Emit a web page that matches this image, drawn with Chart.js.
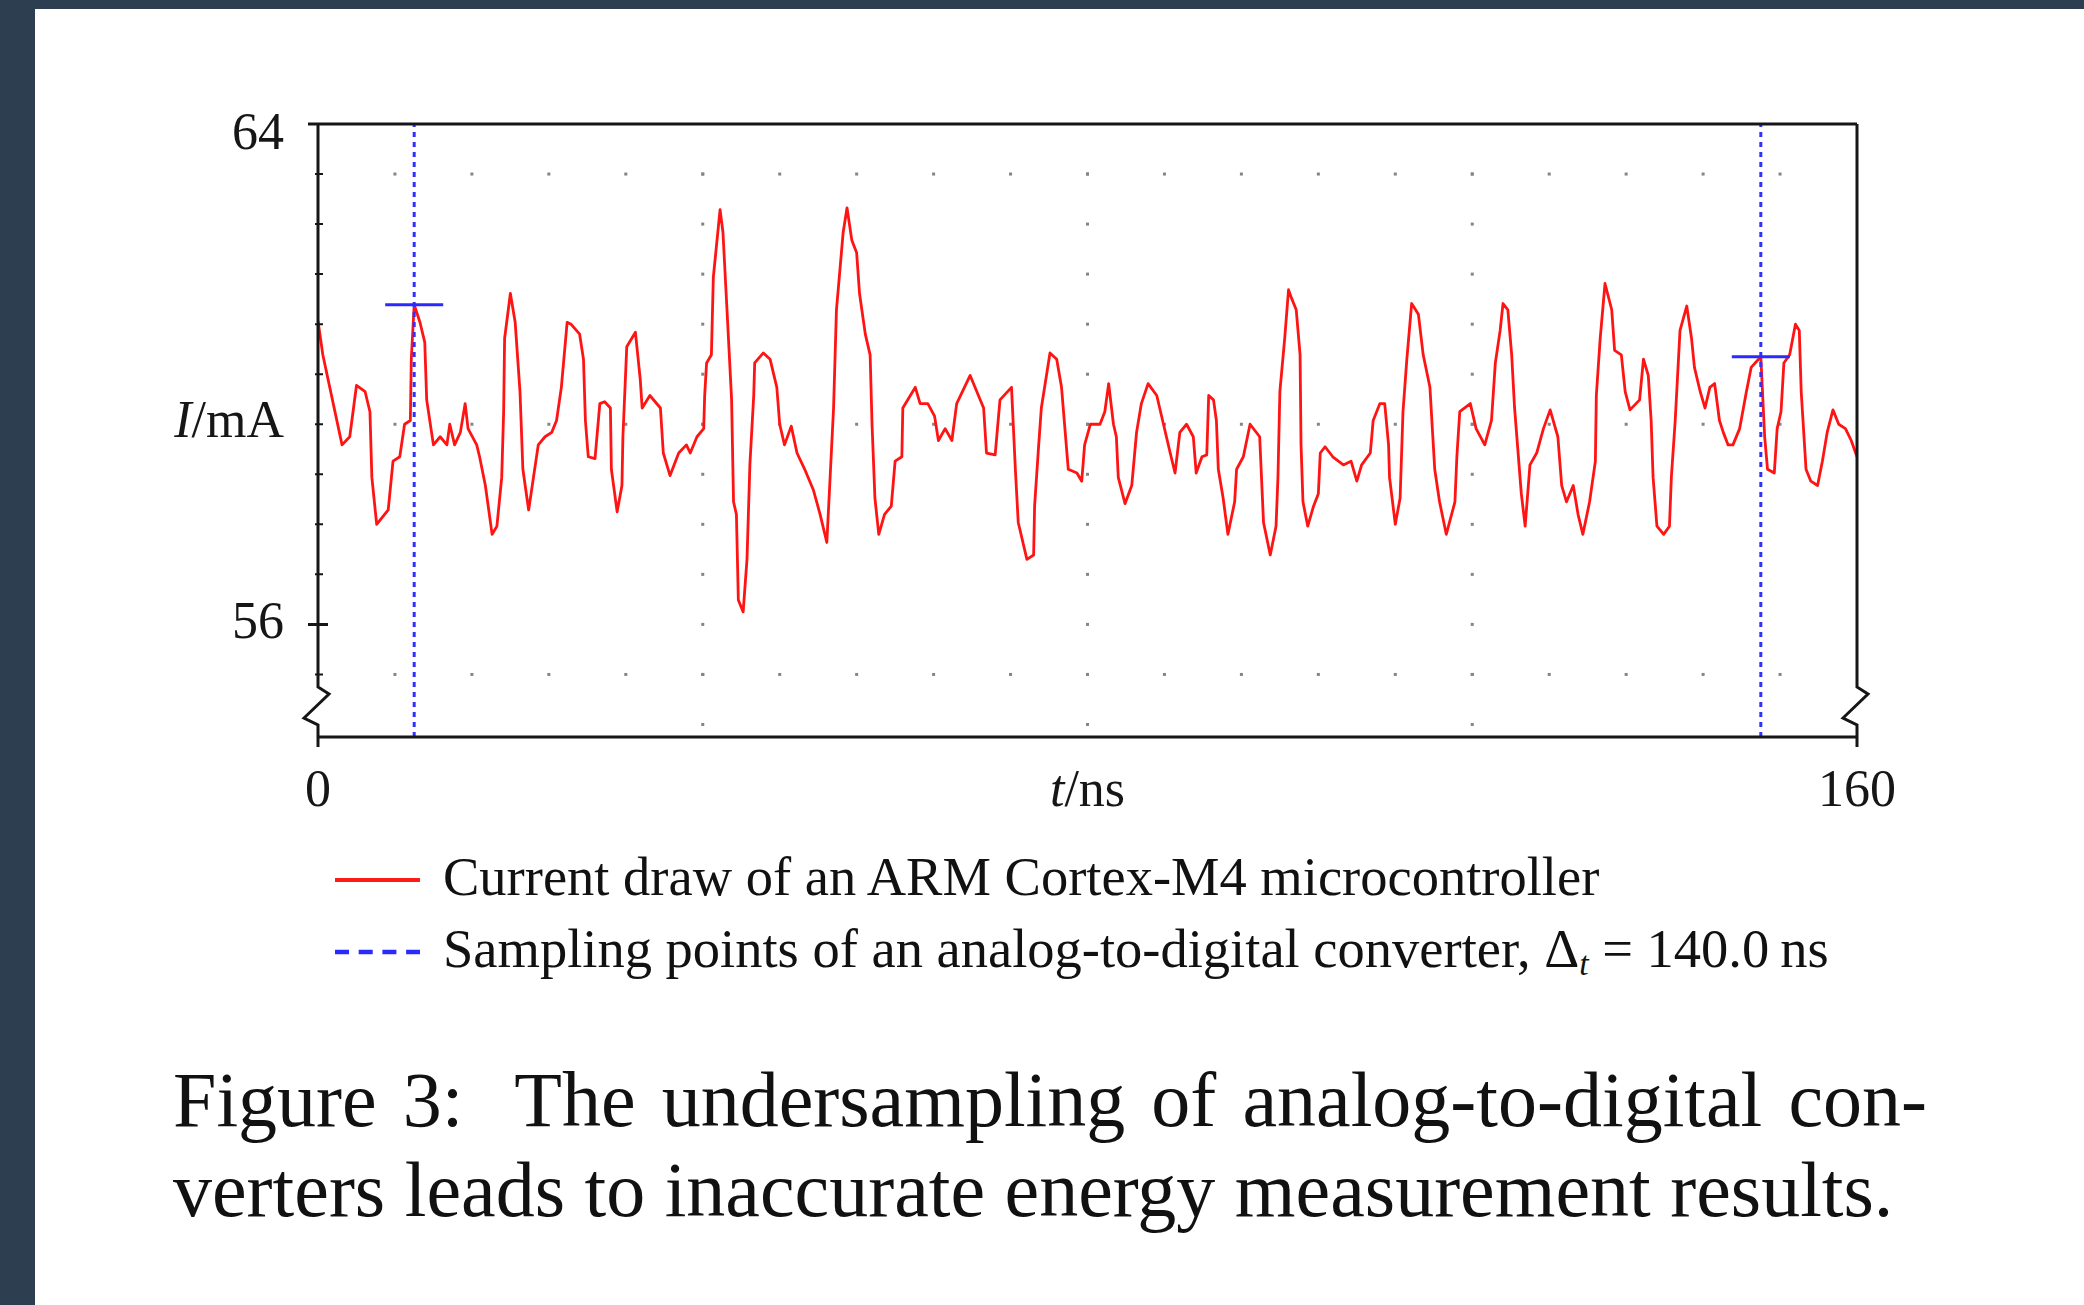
<!DOCTYPE html>
<html>
<head>
<meta charset="utf-8">
<title>Figure 3</title>
<script src="https://cdn.jsdelivr.net/npm/chart.js@4.4.1/dist/chart.umd.min.js"></script>
<style>
  html, body { margin: 0; padding: 0; }
  body {
    width: 2084px; height: 1305px; overflow: hidden; position: relative;
    background: #2c3e50;
    font-family: "Liberation Serif", "Times New Roman", serif;
    color: #111;
  }
  .sheet { position: absolute; left: 35px; top: 9px; right: 0; bottom: 0; background: #fff; }
  #chart { position: absolute; left: 0; top: 0; }
  .key { position: absolute; left: 335px; }
  .key-text { position: absolute; left: 443px; font-size: 54.5px; line-height: 62px; white-space: nowrap; }
  .key-text sub { font-size: 0.62em; font-style: italic; vertical-align: -0.25em; }
  .caption { position: absolute; left: 173px; top: 1055px; width: 1754px; font-size: 78px; line-height: 90px; }
  .caption .first { text-align: justify; text-align-last: justify; }
</style>
</head>
<body>
<div class="sheet"></div>
<canvas id="chart" width="2084" height="830"></canvas>

<svg class="key" style="top:874px" width="85" height="12">
  <line x1="0" y1="6" x2="85" y2="6" stroke="#ff1a1a" stroke-width="4"/>
</svg>
<div class="key-text" style="top:846px">Current draw of an ARM Cortex-M4 microcontroller</div>
<svg class="key" style="top:946px" width="85" height="12">
  <line x1="0" y1="6" x2="85" y2="6" stroke="#2a2aff" stroke-width="4.5" stroke-dasharray="14 9.7"/>
</svg>
<div class="key-text" style="top:918px">Sampling points of an analog-to-digital converter, &Delta;<sub>t</sub> = 140.0&#8201;ns</div>

<div class="caption">
  <div class="first">Figure 3:&nbsp; The undersampling of analog-to-digital con-</div>
  <div>verters leads to inaccurate energy measurement results.</div>
</div>

<script>
/* =============================== */
/* Data */
/* =============================== */
// time (ns) and current draw (mA) of the MCU trace
const timeNs = [
  0, 0.5, 2.5, 3.3, 4.0, 4.9, 5.4, 5.6, 6.1, 7.3, 7.8, 8.5, 9.0, 9.6, 9.7, 10.0,
  10.6, 11.1, 11.3, 12.0, 12.7, 13.4, 13.7, 14.2, 14.8, 15.3, 15.6, 16.5, 16.8, 17.4, 18.1, 18.6,
  19.1, 19.3, 19.4, 20.0, 20.5, 21.0, 21.3, 21.9, 22.4, 22.9, 23.6, 24.3, 24.8, 25.3, 25.9, 26.3,
  27.2, 27.6, 27.8, 28.1, 28.8, 29.3, 29.8, 30.4, 30.5, 31.1, 31.6, 31.7, 32.1, 33.0, 33.5, 33.7,
  34.5, 35.6, 35.9, 36.6, 37.5, 38.3, 38.7, 39.4, 40.1, 40.2, 40.4, 40.9, 41.1, 41.8, 42.1, 42.5,
  43.0, 43.2, 43.5, 43.7, 44.2, 44.6, 44.9, 45.3, 45.4, 46.3, 47.0, 47.7, 48.0, 48.5, 49.2, 49.8,
  50.6, 51.5, 52.2, 52.9, 53.2, 53.6, 53.9, 54.6, 55.0, 55.5, 56.0, 56.3, 56.9, 57.4, 57.6, 57.9,
  58.3, 58.9, 59.6, 60.0, 60.7, 60.8, 62.1, 62.6, 63.4, 64.1, 64.5, 65.2, 65.9, 66.4, 67.8, 69.2,
  69.5, 70.4, 70.9, 72.1, 72.5, 72.8, 73.7, 74.4, 74.5, 74.9, 75.2, 76.1, 76.8, 77.3, 78.0, 78.9,
  79.4, 79.7, 80.3, 81.3, 81.8, 82.2, 82.7, 83.0, 83.2, 83.9, 84.6, 85.1, 85.6, 86.3, 87.2, 87.9,
  88.6, 89.1, 89.6, 90.3, 91.0, 91.3, 91.9, 92.4, 92.6, 93.1, 93.4, 93.6, 94.1, 94.6, 95.3, 95.5,
  96.2, 96.9, 97.9, 98.3, 99.0, 99.6, 99.8, 100.0, 100.5, 100.9, 101.2, 101.7, 102.1, 102.2, 102.4, 102.9,
  103.5, 104.0, 104.2, 104.7, 105.5, 106.6, 107.4, 108.0, 108.5, 109.4, 109.7, 110.4, 110.9, 111.3, 111.4, 112.0,
  112.5, 112.8, 113.2, 113.7, 114.4, 114.9, 115.6, 116.1, 116.6, 117.3, 118.2, 118.4, 118.7, 119.8, 120.4, 121.3,
  122.0, 122.4, 122.9, 123.2, 123.7, 124.1, 124.4, 125.1, 125.5, 126.0, 126.7, 127.4, 128.1, 128.9, 129.3, 129.8,
  130.5, 131.0, 131.5, 132.2, 132.8, 132.9, 133.3, 133.8, 134.5, 134.8, 135.5, 135.9, 136.4, 137.4, 137.8, 138.3,
  138.6, 138.8, 139.2, 139.9, 140.5, 140.7, 141.1, 141.6, 142.3, 142.8, 143.1, 143.7, 144.2, 144.7, 145.2, 145.7,
  146.1, 146.6, 147.1, 147.8, 148.5, 149.0, 150.0, 150.4, 150.7, 151.4, 151.7, 152.1, 152.4, 153.0, 153.6, 154.0,
  154.2, 154.7, 155.2, 155.9, 156.4, 156.9, 157.5, 158.1, 158.8, 159.4, 160.0
];
const currentMa = [
  60.85, 60.31, 58.87, 59.00, 59.82, 59.72, 59.40, 58.35, 57.60, 57.83, 58.61, 58.68, 59.20, 59.26, 60.24, 61.11,
  60.83, 60.51, 59.59, 58.87, 59.00, 58.87, 59.20, 58.87, 59.07, 59.53, 59.13, 58.87, 58.68, 58.22, 57.44, 57.57,
  58.35, 59.40, 60.57, 61.29, 60.83, 59.72, 58.48, 57.83, 58.35, 58.87, 59.00, 59.07, 59.26, 59.79, 60.83, 60.80,
  60.64, 60.24, 59.26, 58.68, 58.65, 59.53, 59.56, 59.46, 58.48, 57.80, 58.22, 59.00, 60.44, 60.67, 59.92, 59.46,
  59.66, 59.46, 58.74, 58.38, 58.74, 58.87, 58.74, 59.00, 59.13, 59.66, 60.18, 60.31, 61.55, 62.63, 62.27, 61.09,
  59.59, 57.96, 57.76, 56.39, 56.20, 57.04, 58.55, 59.66, 60.18, 60.34, 60.24, 59.79, 59.20, 58.87, 59.17, 58.74,
  58.48, 58.15, 57.76, 57.31, 58.22, 59.46, 61.03, 62.27, 62.66, 62.14, 61.94, 61.29, 60.64, 60.31, 59.20, 58.02,
  57.44, 57.76, 57.89, 58.61, 58.68, 59.46, 59.79, 59.53, 59.53, 59.33, 58.94, 59.13, 58.94, 59.53, 59.98, 59.46,
  58.74, 58.71, 59.59, 59.79, 58.48, 57.63, 57.04, 57.11, 57.89, 58.81, 59.46, 60.34, 60.24, 59.79, 58.48, 58.42,
  58.29, 58.87, 59.20, 59.20, 59.40, 59.85, 59.20, 59.00, 58.35, 57.93, 58.22, 59.07, 59.53, 59.85, 59.66, 59.20,
  58.74, 58.42, 59.07, 59.20, 59.00, 58.42, 58.68, 58.71, 59.66, 59.59, 59.26, 58.48, 58.02, 57.44, 57.96, 58.48,
  58.68, 59.20, 59.00, 57.63, 57.11, 57.57, 58.35, 59.72, 60.57, 61.35, 61.22, 61.03, 60.31, 58.87, 57.96, 57.57,
  57.89, 58.09, 58.74, 58.84, 58.68, 58.55, 58.61, 58.29, 58.55, 58.74, 59.26, 59.53, 59.53, 58.87, 58.35, 57.60,
  58.02, 59.40, 60.24, 61.13, 60.96, 60.31, 59.79, 58.48, 57.96, 57.44, 57.96, 58.68, 59.40, 59.53, 59.13, 58.87,
  59.26, 60.18, 60.70, 61.13, 61.03, 60.31, 59.46, 58.09, 57.57, 58.55, 58.74, 59.13, 59.43, 59.00, 58.22, 57.96,
  58.22, 57.76, 57.44, 57.96, 58.61, 59.66, 60.57, 61.45, 61.03, 60.38, 60.31, 59.72, 59.43, 59.59, 60.24, 59.98,
  59.26, 58.35, 57.57, 57.44, 57.57, 58.35, 59.26, 60.70, 61.09, 60.57, 60.11, 59.72, 59.46, 59.79, 59.85, 59.26,
  59.07, 58.87, 58.87, 59.13, 59.72, 60.11, 60.28, 59.00, 58.48, 58.42, 59.13, 59.40, 60.18, 60.31, 60.80, 60.70,
  59.72, 58.48, 58.29, 58.22, 58.61, 59.07, 59.43, 59.20, 59.13, 58.94, 58.68
];

// ADC sampling instants (140 ns apart) and the value each one reads
const sampleTimes = [10, 150];
const sampleValues = [61.11, 60.28];

// axes
const xTickLabels = [0, 160];
const yTickLabels = [56, 64];
const yMinorTicks = [63.2, 62.4, 61.6, 60.8, 60.0, 59.2, 58.4, 57.6, 56.8, 55.2];
const gridRows = [63.2, 59.2, 55.2];
const gridCols = [40, 80, 120];

const X_MIN = 0, X_MAX = 160;
const Y_MIN = 54.2, Y_MAX = 64;
const DOT_STEP_T = 8, DOT_STEP_I = 0.8;

const FONT = '"Liberation Serif", "Times New Roman", serif';
const FONT_SIZE = 52;
const INK = '#161616';

/* =============================== */
/* Frame, breaks, dotted grid, axis names */
/* =============================== */
function drawMixed(ctx, parts, x, y, align) {
  const widths = parts.map(([s, italic]) => {
    ctx.font = (italic ? 'italic ' : '') + FONT_SIZE + 'px ' + FONT;
    return ctx.measureText(s).width;
  });
  const total = widths.reduce((a, b) => a + b, 0);
  let cx = align === 'right' ? x - total : x - total / 2;
  ctx.textAlign = 'left';
  ctx.textBaseline = 'middle';
  parts.forEach(([s, italic], i) => {
    ctx.font = (italic ? 'italic ' : '') + FONT_SIZE + 'px ' + FONT;
    ctx.fillText(s, cx, y);
    cx += widths[i];
  });
}

const figureFrame = {
  id: 'figureFrame',
  beforeDatasetsDraw(chart) {
    const { ctx, scales: { x, y } } = chart;
    ctx.save();
    ctx.fillStyle = '#858585';
    const dot = (t, v) => ctx.fillRect(x.getPixelForValue(t) - 1.5, y.getPixelForValue(v) - 1.5, 3, 3);
    gridRows.forEach(v => {
      for (let t = DOT_STEP_T; t < X_MAX; t += DOT_STEP_T) dot(t, v);
    });
    gridCols.forEach(t => {
      for (let v = Y_MAX - DOT_STEP_I; v > Y_MIN; v -= DOT_STEP_I) dot(t, v);
    });
    ctx.restore();
  },
  afterDatasetsDraw(chart) {
    const { ctx, chartArea: a, scales: { y } } = chart;
    ctx.save();
    ctx.strokeStyle = INK;
    ctx.lineWidth = 3;
    ctx.beginPath();
    ctx.moveTo(a.left, a.top); ctx.lineTo(a.right, a.top);
    ctx.moveTo(a.left, a.bottom); ctx.lineTo(a.right, a.bottom);
    // both side axes carry a break mark just above the bottom edge
    [a.left, a.right].forEach(px => {
      ctx.moveTo(px, a.top);
      ctx.lineTo(px, a.bottom - 50);
      ctx.lineTo(px + 11, a.bottom - 43);
      ctx.lineTo(px - 14, a.bottom - 19);
      ctx.lineTo(px, a.bottom - 12);
      ctx.lineTo(px, a.bottom + 10);
    });
    yTickLabels.forEach(v => {
      const py = y.getPixelForValue(v);
      ctx.moveTo(a.left - 10, py); ctx.lineTo(a.left + 10, py);
    });
    ctx.stroke();

    ctx.lineWidth = 2;
    ctx.beginPath();
    yMinorTicks.forEach(v => {
      const py = y.getPixelForValue(v);
      ctx.moveTo(a.left - 3, py); ctx.lineTo(a.left + 5, py);
    });
    ctx.stroke();
    ctx.restore();
  },
  afterDraw(chart) {
    const { ctx, chartArea: a } = chart;
    ctx.save();
    ctx.fillStyle = INK;
    drawMixed(ctx, [['I', true], ['/mA', false]], a.left - 34, (a.top + a.bottom) / 2 - 7, 'right');
    drawMixed(ctx, [['t', true], ['/ns', false]], (a.left + a.right) / 2, a.bottom + 24 + 31, 'center');
    ctx.restore();
  }
};

/* =============================== */
/* Chart.js */
/* =============================== */
const trace = timeNs.map((t, i) => ({ x: t, y: currentMa[i] }));

const sampleLines = sampleTimes.map(t => ({
  data: [{ x: t, y: Y_MIN }, { x: t, y: Y_MAX }],
  borderColor: '#3030ff',
  borderWidth: 3,
  borderDash: [5, 5],
  pointRadius: 0,
  order: 1
}));

const sampleMarks = {
  data: sampleTimes.map((t, i) => ({ x: t, y: sampleValues[i] })),
  showLine: false,
  pointStyle: 'line',
  pointRadius: 29,
  pointBorderWidth: 3,
  pointBorderColor: '#2a2aff',
  order: 0
};

new Chart(document.getElementById('chart'), {
  type: 'line',
  data: {
    datasets: [
      {
        data: trace,
        borderColor: '#ff1414',
        borderWidth: 2.8,
        tension: 0,
        borderJoinStyle: 'round',
        pointRadius: 0,
        order: 2
      },
      ...sampleLines,
      sampleMarks
    ]
  },
  options: {
    responsive: false,
    animation: false,
    devicePixelRatio: 1,
    layout: { padding: { left: 218, right: 227, top: 124, bottom: 13 } },
    plugins: { legend: { display: false }, tooltip: { enabled: false } },
    scales: {
      x: {
        type: 'linear',
        min: X_MIN,
        max: X_MAX,
        grid: { display: false, drawTicks: false },
        border: { display: false },
        afterBuildTicks: scale => { scale.ticks = xTickLabels.map(v => ({ value: v })); },
        afterFit: scale => { scale.height = 80; },
        ticks: {
          autoSkip: false,
          maxRotation: 0,
          padding: 24,
          color: INK,
          font: { family: FONT, size: FONT_SIZE }
        }
      },
      y: {
        type: 'linear',
        min: Y_MIN,
        max: Y_MAX,
        grid: { display: false, drawTicks: false },
        border: { display: false },
        afterBuildTicks: scale => { scale.ticks = yTickLabels.map(v => ({ value: v })); },
        afterFit: scale => { scale.width = 100; },
        ticks: {
          padding: 34,
          color: INK,
          // the top label hangs just below its tick so it stays inside the frame height
          callback: v => (v === Y_MAX ? ['', String(v)] : String(v)),
          font: c => ({
            family: FONT,
            size: FONT_SIZE,
            lineHeight: c.tick && c.tick.value === Y_MAX ? 0.45 : 1.2
          })
        }
      }
    }
  },
  plugins: [figureFrame]
});
</script>
</body>
</html>
